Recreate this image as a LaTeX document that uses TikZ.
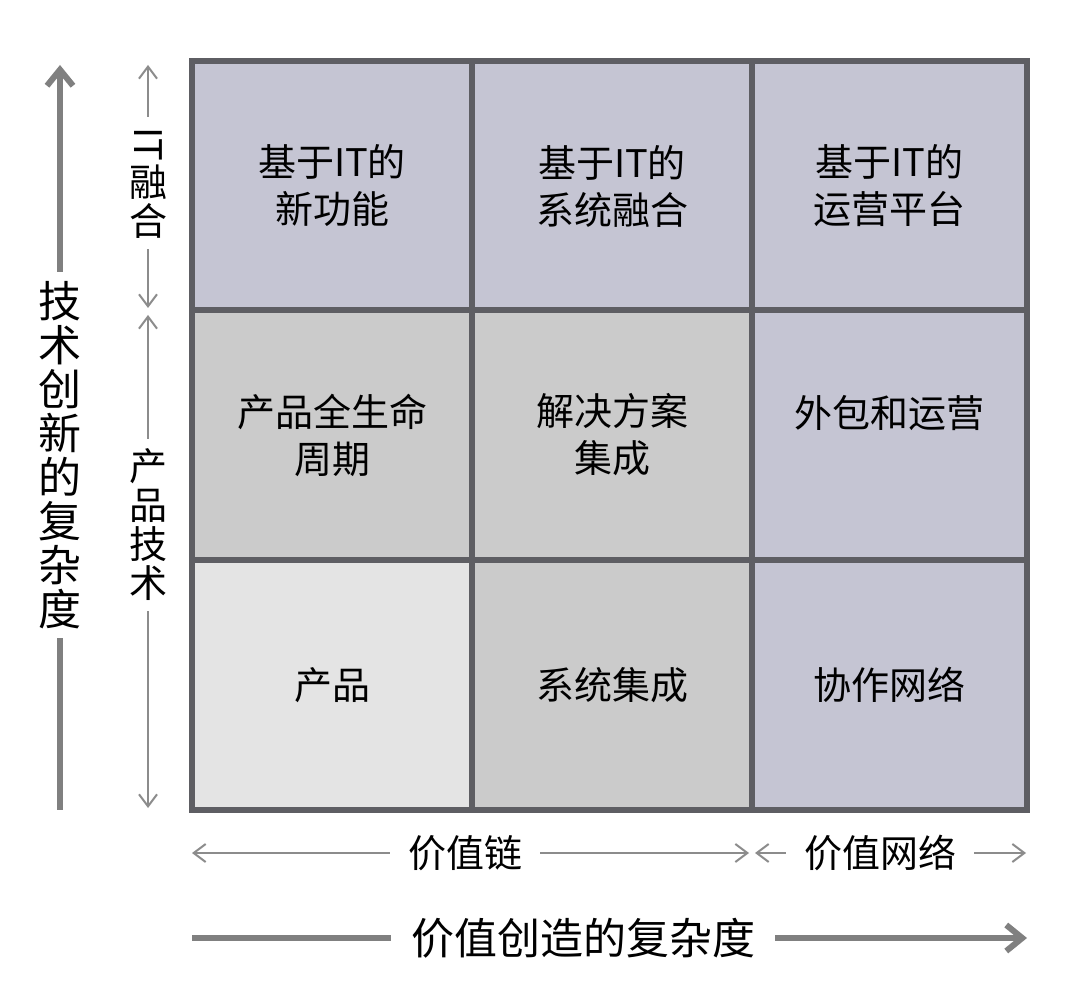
\documentclass[tikz,border=0pt]{standalone}
\usepackage{fontspec}
\newfontfamily\cjk{Noto Sans CJK SC}
\usetikzlibrary{arrows.meta,positioning}
\definecolor{gridline}{HTML}{5E5E63}
\definecolor{lavcell}{HTML}{C5C5D3}
\definecolor{greycell}{HTML}{CBCBCB}
\definecolor{lightcell}{HTML}{E4E4E4}
\definecolor{axisgrey}{HTML}{808080}
\definecolor{spangrey}{HTML}{8C8C8C}

\begin{document}
\begin{tikzpicture}[x=0.5pt,y=0.5pt,
    cell/.style={draw=gridline, line width=3pt, inner sep=0pt, outer sep=0pt, minimum width=140pt, minimum height=125pt, align=center, font=\cjk\fontsize{19}{23.5}\selectfont},
    lavbox/.style={cell, fill=lavcell},
    greybox/.style={cell, fill=greycell},
    lightbox/.style={cell, fill=lightcell},
    axisline/.style={line width=3pt, draw=axisgrey},
    axis/.style={axisline, -{Straight Barb[length=8pt,width=13pt]}},
    span/.style={line width=1pt, draw=spangrey, -{Straight Barb[length=6pt,width=9pt]}},
    biglbl/.style={font=\cjk\fontsize{21.5}{22}\selectfont, align=center, inner sep=4.5pt},
    smalllbl/.style={font=\cjk\fontsize{19}{19.5}\selectfont, align=center, inner sep=5pt}
]
\useasboundingbox[fill=white] (0,0) rectangle (1080,996);

% matrix of cells
\node[lavbox] (itnew) at (332,810) {基于IT的\\新功能};
\node[lavbox] (itsys) at (612,810) {基于IT的\\系统融合};
\node[lavbox, minimum width=137.5pt] (itops) at (889.5,810) {基于IT的\\运营平台};
\node[greybox] (life) at (332,561) {产品全生命\\周期};
\node[greybox] (solution) at (612,561) {解决方案\\集成};
\node[lavbox, minimum width=137.5pt] (outsrc) at (889.5,561) {外包和运营\\\mbox{}};
\node[lightbox] (product) at (332,311) {产品};
\node[greybox] (sysint) at (612,311) {系统集成};
\node[lavbox, minimum width=137.5pt] (collab) at (889.5,311) {协作网络};

% vertical axis
\coordinate (vtip) at (60,931);
\coordinate (vfoot) at (60,186);
\node[biglbl] (vlbl) at (60,541) {技\\术\\创\\新\\的\\复\\杂\\度};
\draw[axis] (vlbl) -- (vtip);
\draw[axisline] (vlbl) -- (vfoot);

% vertical spans
\coordinate (ittop) at (148,931);
\coordinate (itbot) at (148,688);
\node[smalllbl] (itlbl) at (148,813) {\rotatebox[origin=c]{-90}{IT}\\融\\合};
\draw[span] (itlbl) -- (ittop);
\draw[span] (itlbl) -- (itbot);
\coordinate (prtop) at (148,681);
\coordinate (prbot) at (148,188);
\node[smalllbl] (prlbl) at (148,471) {产\\品\\技\\术};
\draw[span] (prlbl) -- (prtop);
\draw[span] (prlbl) -- (prbot);

% horizontal spans
\coordinate (chainl) at (192,143);
\coordinate (chainr) at (749,143);
\node[smalllbl, inner sep=9pt] (chainlbl) at (465,143) {价值链};
\draw[span] (chainlbl) -- (chainl);
\draw[span] (chainlbl) -- (chainr);
\coordinate (netl) at (755,143);
\coordinate (netr) at (1026,143);
\node[smalllbl, inner sep=9pt] (netlbl) at (880,143) {价值网络};
\draw[span] (netlbl) -- (netl);
\draw[span] (netlbl) -- (netr);

% horizontal axis
\coordinate (hfoot) at (192,58);
\coordinate (htip) at (1027,58);
\node[biglbl, inner sep=10pt] (hlbl) at (583,58) {价值创造的复杂度};
\draw[axisline] (hlbl) -- (hfoot);
\draw[axis] (hlbl) -- (htip);
\end{tikzpicture}
\end{document}
